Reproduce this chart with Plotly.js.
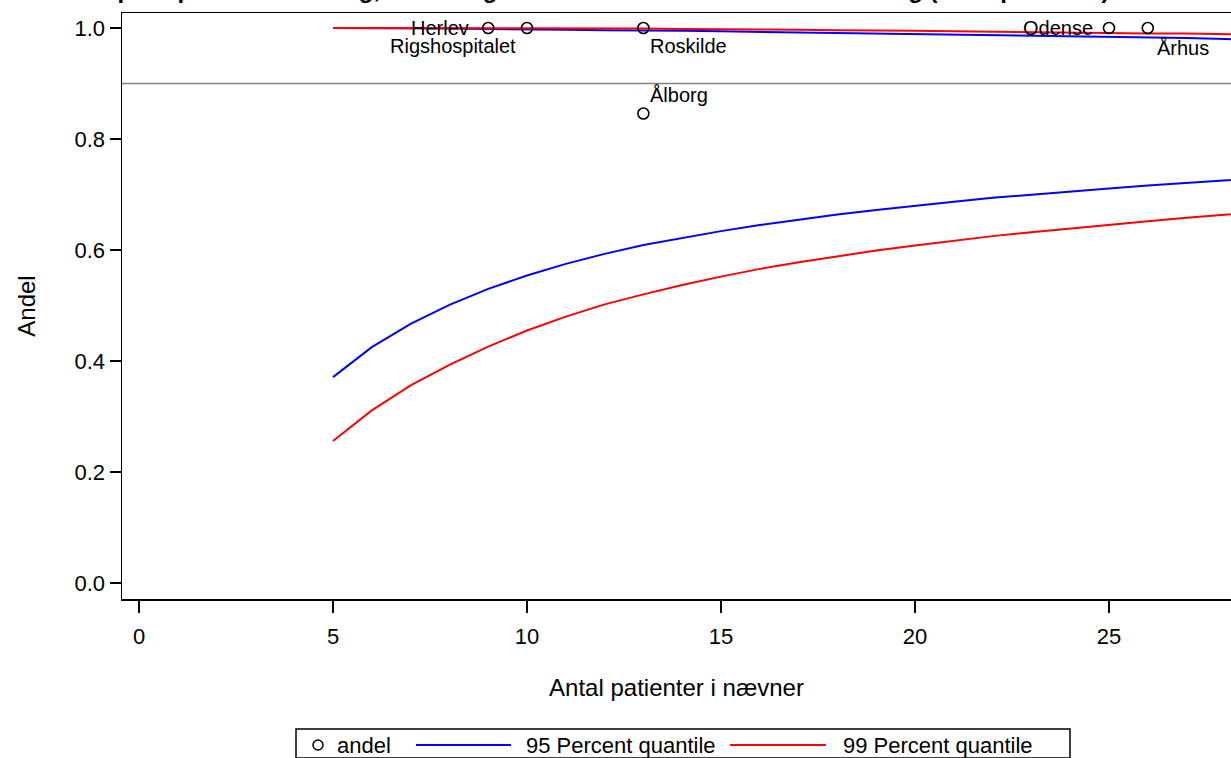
<!DOCTYPE html>
<html>
<head>
<meta charset="utf-8">
<script src="https://cdn.plot.ly/plotly-3.0.1.min.js"></script>
<style>
  html, body { margin: 0; padding: 0; background: #ffffff; }
  #chart { width: 1231px; height: 758px; }
</style>
</head>
<body>
<div id="chart"></div>
<script>
// ---------- data ----------
const chartTitle = "Andel af patienter med præoperativ vurdering, der er registreret i databasen inden behandling (antal patienter)";
const xTitle = "Antal patienter i nævner";
const yTitle = "Andel";

const hospitals = ["Herlev", "Rigshospitalet", "Roskilde", "Ålborg", "Odense", "Århus"];
const hospitalN = [9, 10, 13, 13, 25, 26];
const hospitalAndel = [1.0, 1.0, 1.0, 0.846, 1.0, 1.0];

const limitN = [5, 6, 7, 8, 9, 10, 11, 12, 13, 14, 15, 16, 17, 18, 19, 20, 21, 22, 23, 24, 25, 26, 27, 28, 29];
const lower95 = [0.371, 0.425, 0.467, 0.501, 0.530, 0.554, 0.575, 0.593, 0.609, 0.622, 0.634, 0.645, 0.655, 0.664, 0.672, 0.680, 0.687, 0.694, 0.700, 0.705, 0.711, 0.716, 0.721, 0.726, 0.730];
const upper95 = [1.000, 1.000, 0.999, 0.999, 0.998, 0.998, 0.997, 0.996, 0.996, 0.995, 0.994, 0.993, 0.993, 0.992, 0.991, 0.990, 0.989, 0.988, 0.987, 0.986, 0.985, 0.983, 0.982, 0.980, 0.979];
const lower99 = [0.256, 0.311, 0.356, 0.393, 0.426, 0.455, 0.480, 0.502, 0.520, 0.537, 0.552, 0.566, 0.578, 0.589, 0.599, 0.608, 0.617, 0.625, 0.632, 0.639, 0.646, 0.652, 0.658, 0.664, 0.669];
const upper99 = [1.000, 1.000, 1.000, 1.000, 1.000, 0.999, 0.999, 0.999, 0.999, 0.998, 0.998, 0.997, 0.997, 0.996, 0.996, 0.995, 0.994, 0.993, 0.993, 0.992, 0.991, 0.990, 0.990, 0.989, 0.988];

const targetLevel = 0.9;

const legendLabels = ["andel", "95 Percent quantile", "99 Percent quantile"];
const xTickVals = [0, 5, 10, 15, 20, 25];
const yTickVals = [0.0, 0.2, 0.4, 0.6, 0.8, 1.0];

// ---------- styling ----------
const FONT = "'Liberation Sans', Arial, Helvetica, sans-serif";
const BLUE = "#0000ff";
const RED = "#ff0000";

// plot area in pixels
const W = 1231, H = 758;
const PL = 122, PR = 1231, PT = 13, PB = 599;
const pw = PR - PL, ph = PB - PT;
const px2x = p => (p - PL) / pw;
const py2y = p => (PB - p) / ph;

// label placement per hospital (same order as hospitals)
const labelStyle = [
  {xanchor: "right", yanchor: "middle", xshift: -17, yshift: 0},
  {xanchor: "right", yanchor: "top", xshift: -9, yshift: -5},
  {xanchor: "left", yanchor: "top", xshift: 5, yshift: -5},
  {xanchor: "left", yanchor: "bottom", xshift: 5, yshift: 5},
  {xanchor: "right", yanchor: "middle", xshift: -14, yshift: 0},
  {xanchor: "left", yanchor: "top", xshift: 7, yshift: -7}
];

const traces = [
  {x: limitN, y: upper95, type: "scatter", mode: "lines", line: {color: BLUE, width: 2}, name: legendLabels[1], hoverinfo: "x+y"},
  {x: limitN, y: lower95, type: "scatter", mode: "lines", line: {color: BLUE, width: 2}, name: legendLabels[1], hoverinfo: "x+y"},
  {x: limitN, y: upper99, type: "scatter", mode: "lines", line: {color: RED, width: 2}, name: legendLabels[2], hoverinfo: "x+y"},
  {x: limitN, y: lower99, type: "scatter", mode: "lines", line: {color: RED, width: 2}, name: legendLabels[2], hoverinfo: "x+y"},
  {x: hospitalN, y: hospitalAndel, type: "scatter", mode: "markers", text: hospitals, name: legendLabels[0],
   marker: {symbol: "circle-open", size: 11, color: "#000000", line: {width: 1.6, color: "#000000"}}, cliponaxis: false}
];

const annotations = hospitals.map((h, i) => Object.assign({
  x: hospitalN[i], y: hospitalAndel[i], xref: "x", yref: "y", text: h, showarrow: false,
  font: {family: FONT, size: 20, color: "#000000"}
}, labelStyle[i]));

// title (cut off at top edge as in reference)
annotations.push({
  xref: "paper", yref: "paper", x: px2x(1112), y: 1, xanchor: "right", yanchor: "bottom", yshift: 8,
  text: "<b>" + chartTitle + "</b>", showarrow: false,
  font: {family: FONT, size: 24, color: "#000000"}
});

// custom legend
const legY = 745;
const legendBox = {x0: 296, x1: 1070, y0: 729, y1: 758};
const legendText = [
  {label: legendLabels[0], x: 335},
  {label: legendLabels[1], x: 524},
  {label: legendLabels[2], x: 841}
];
legendText.forEach(t => annotations.push({
  xref: "paper", yref: "paper", x: px2x(t.x), y: py2y(legY), xanchor: "left", yanchor: "middle",
  text: t.label, showarrow: false, font: {family: FONT, size: 22, color: "#000000"}
}));

const shapes = [
  {type: "line", xref: "paper", yref: "y", x0: 0, x1: 1, y0: targetLevel, y1: targetLevel,
   line: {color: "#808080", width: 1.5}, layer: "below"},
  {type: "rect", xref: "paper", yref: "paper",
   x0: px2x(legendBox.x0), x1: px2x(legendBox.x1), y0: py2y(legendBox.y0), y1: py2y(legendBox.y1),
   line: {color: "#000000", width: 1.5}, fillcolor: "rgba(0,0,0,0)"},
  {type: "circle", xref: "paper", yref: "paper", xsizemode: "pixel", ysizemode: "pixel",
   xanchor: px2x(318), yanchor: py2y(legY), x0: -5, x1: 5, y0: -5, y1: 5,
   line: {color: "#000000", width: 1.5}},
  {type: "line", xref: "paper", yref: "paper", x0: px2x(416), x1: px2x(511), y0: py2y(legY), y1: py2y(legY),
   line: {color: BLUE, width: 2}},
  {type: "line", xref: "paper", yref: "paper", x0: px2x(730), x1: px2x(826), y0: py2y(legY), y1: py2y(legY),
   line: {color: RED, width: 2}}
];

// axis ranges derived from pixel geometry: 0 at x=139, 38.8 px per unit; y 1.0 at 28, 0.0 at 583
const xPerPx = 1 / 38.8;
const xRange = [0 - (139 - PL) * xPerPx, 0 + (PR - 139) * xPerPx];
const yPerPx = 1 / 555;
const yRange = [0 - (PB - 583) * yPerPx, 1 + (28 - PT) * yPerPx];

const layout = {
  width: W, height: H,
  margin: {l: PL, r: W - PR, t: PT, b: H - PB, pad: 0},
  paper_bgcolor: "#ffffff", plot_bgcolor: "#ffffff",
  showlegend: false,
  font: {family: FONT, size: 22, color: "#000000"},
  xaxis: {
    range: xRange, tickvals: xTickVals, ticktext: xTickVals.map(String),
    showgrid: false, zeroline: false, showline: true, mirror: true, linecolor: "#000000", linewidth: 1.5,
    ticks: "outside", ticklen: 12, tickwidth: 1.5, tickcolor: "#000000", ticklabelstandoff: 5,
    tickfont: {family: FONT, size: 22, color: "#000000"},
    title: {text: xTitle, font: {family: FONT, size: 24, color: "#000000"}, standoff: 31},
    automargin: false
  },
  yaxis: {
    range: yRange, tickvals: yTickVals, ticktext: yTickVals.map(v => v.toFixed(1)),
    showgrid: false, zeroline: false, showline: true, mirror: false, linecolor: "#000000", linewidth: 1.5,
    ticks: "outside", ticklen: 11, tickwidth: 1.5, tickcolor: "#000000",
    tickfont: {family: FONT, size: 22, color: "#000000"},
    title: {text: yTitle, font: {family: FONT, size: 24, color: "#000000"}, standoff: 32},
    automargin: false
  },
  annotations: annotations,
  shapes: shapes
};

Plotly.newPlot("chart", traces, layout, {displayModeBar: false, staticPlot: true});
</script>
</body>
</html>
